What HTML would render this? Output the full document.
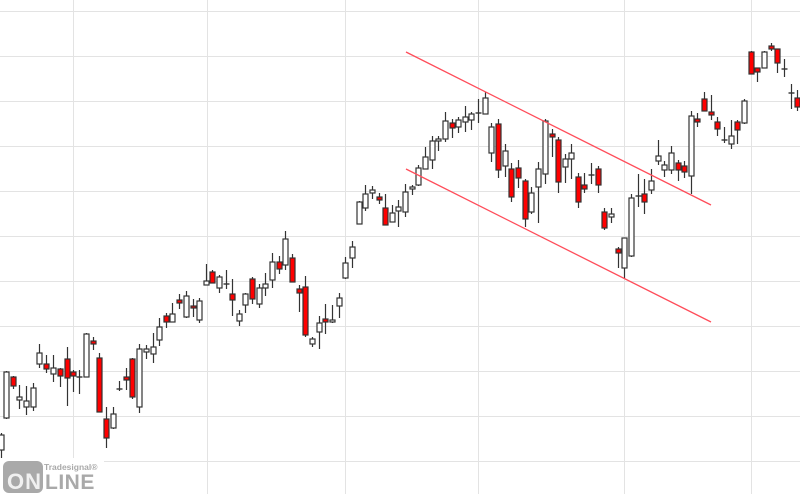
<!DOCTYPE html>
<html><head><meta charset="utf-8"><style>
html,body{margin:0;padding:0;background:#fff;}
svg{display:block;}
</style></head><body>
<svg id="s" width="800" height="494" viewBox="0 0 800 494" xmlns="http://www.w3.org/2000/svg">
<g stroke="#e3e3e3" stroke-width="1">
<line x1="0" y1="11.5" x2="800" y2="11.5"/>
<line x1="0" y1="56.5" x2="800" y2="56.5"/>
<line x1="0" y1="101.5" x2="800" y2="101.5"/>
<line x1="0" y1="146.5" x2="800" y2="146.5"/>
<line x1="0" y1="191.5" x2="800" y2="191.5"/>
<line x1="0" y1="236.5" x2="800" y2="236.5"/>
<line x1="0" y1="281.5" x2="800" y2="281.5"/>
<line x1="0" y1="326.5" x2="800" y2="326.5"/>
<line x1="0" y1="371.5" x2="800" y2="371.5"/>
<line x1="0" y1="416.5" x2="800" y2="416.5"/>
<line x1="0" y1="461.5" x2="800" y2="461.5"/>
<line x1="73.5" y1="0" x2="73.5" y2="494"/>
<line x1="207.5" y1="0" x2="207.5" y2="494"/>
<line x1="345.5" y1="0" x2="345.5" y2="494"/>
<line x1="478.5" y1="0" x2="478.5" y2="494"/>
<line x1="624.5" y1="0" x2="624.5" y2="494"/>
<line x1="751.5" y1="0" x2="751.5" y2="494"/>
</g>
<g id="c"></g>
<g stroke="#ff4d5a" stroke-width="1.3">
<line x1="406" y1="52" x2="711" y2="205"/>
<line x1="406" y1="169" x2="711" y2="322"/>
</g>
<rect x="0" y="458" width="104" height="36" fill="#fff"/>
<rect x="3" y="461" width="40" height="32" rx="6" fill="#a9a9a9"/>
<text x="7" y="489" font-family="Liberation Sans, sans-serif" font-weight="bold" font-size="22" fill="#f0f0f0" letter-spacing="1">ON</text>
<text x="45" y="489" font-family="Liberation Sans, sans-serif" font-weight="bold" font-size="21" fill="#a9a9a9" letter-spacing="0.5">LINE</text>
<text x="44" y="470" font-family="Liberation Sans, sans-serif" font-weight="bold" font-size="8.5" fill="#a9a9a9">Tradesignal®</text>
</svg>
<script>
var d=[
[1,435,450,433,458,0],[6,372,418,371,419,0],[13,377,386,376,389,1],[19,397,400,385,409,0],[26,401,407,386,415,0],[33,388,407,383,411,0],
[39,353,364,344,368,0],[46,364,369,355,373,1],[53,368,374,355,382,0],[60,369,376,368,387,1],[67,359,378,347,406,1],[73,372,376,370,392,1],
[79,377,377,370,394,2],[86,334,377,333,377,0],[93,341,344,337,350,1],[99,358,412,353,412,1],[106,419,438,407,448,1],[113,414,428,407,429,0],
[119,389,389,381,391,2],[126,377,380,368,390,1],[132,359,397,358,399,1],[139,349,407,344,413,0],[146,349,352,345,359,0],[153,347,354,333,363,0],
[159,327,340,318,346,0],[166,316,322,313,328,1],[172,314,322,303,322,0],[179,300,303,294,309,1],[186,296,317,291,318,0],[193,306,308,299,317,1],
[199,301,320,298,323,0],[206,281,285,264,285,0],[212,272,283,270,283,1],[219,277,288,275,293,0],[226,284,284,270,289,2],[232,294,300,279,316,1],
[239,314,321,310,326,0],[245,294,305,293,313,0],[252,279,299,277,304,1],[259,288,304,284,308,0],[265,284,288,273,296,0],[272,262,280,253,288,0],
[279,262,269,256,274,1],[285,239,265,231,270,0],[292,258,282,254,282,1],[299,289,293,285,312,1],[305,287,335,276,337,1],[312,339,344,337,347,0],
[319,323,332,316,349,0],[325,319,322,304,334,1],[332,320,322,305,323,0],[339,298,306,293,318,0],[345,263,278,257,279,0],[352,247,258,241,268,0],
[359,202,224,201,224,0],[365,194,208,185,211,0],[372,190,193,186,199,0],[379,197,200,193,204,1],[385,208,225,194,225,1],[392,213,222,205,222,0],
[398,207,211,200,227,0],[405,192,212,184,217,0],[412,187,189,185,195,0],[418,168,185,165,186,0],[425,157,169,147,169,0],[432,141,160,136,169,0],
[438,139,141,136,151,0],[445,121,139,112,142,0],[452,123,128,119,138,1],[458,120,127,117,133,0],[465,117,122,106,132,0],[471,114,120,112,130,0],
[478,113,113,99,123,2],[485,98,114,92,114,0],[491,127,153,123,162,0],[498,124,170,119,178,1],[505,151,166,144,177,0],[511,169,197,163,202,1],
[518,168,178,160,188,1],[525,181,219,179,227,1],[531,193,212,187,214,0],[538,169,187,162,223,0],[545,121,174,119,184,0],[552,134,137,129,157,1],
[558,140,182,137,193,1],[565,159,167,154,183,0],[571,153,159,144,179,0],[578,177,202,173,208,1],[584,185,189,173,193,1],[591,175,175,163,184,2],
[598,169,185,166,193,1],[604,212,228,208,230,1],[611,214,217,208,223,0],[618,249,253,247,268,1],[624,238,268,238,279,0],[631,198,256,194,257,0],
[638,196,196,174,207,2],[644,194,202,179,214,1],[651,181,190,169,194,0],[658,156,161,140,165,0],[664,165,170,161,177,0],[671,153,170,146,174,0],
[678,163,170,160,181,1],[684,166,172,161,178,1],[691,116,176,111,194,0],[697,119,122,113,127,1],[704,99,111,92,111,1],[711,112,115,95,120,1],
[717,122,129,117,136,1],[724,140,140,127,143,2],[731,136,144,120,149,0],[737,122,130,120,144,1],[744,101,123,99,124,0],[751,52,74,51,74,1],
[757,68,72,68,82,1],[764,52,68,51,68,0],[771,46,49,43,51,1],[777,49,63,49,73,1],[784,69,69,59,77,2],[791,93,93,84,109,2],[797,98,107,90,111,1]
];
var g=document.getElementById('c'),ns='http://www.w3.org/2000/svg',h='';
d.forEach(function(c){var x=c[0]+0.5;
h+='<line x1="'+x+'" y1="'+c[3]+'" x2="'+x+'" y2="'+c[4]+'" stroke="#333" stroke-width="1.2"/>';
if(c[5]==2){h+='<line x1="'+(x-3)+'" y1="'+c[1]+'" x2="'+(x+3)+'" y2="'+c[1]+'" stroke="#333" stroke-width="1.4"/>';}
else{var hh=Math.max(c[2]-c[1],2);h+='<rect x="'+(x-2.5)+'" y="'+c[1]+'" width="5" height="'+hh+'" fill="'+(c[5]?'#ff0000':'#fff')+'" stroke="#333" stroke-width="1.2"/>';}
});
g.innerHTML=h;
</script>
</body></html>
